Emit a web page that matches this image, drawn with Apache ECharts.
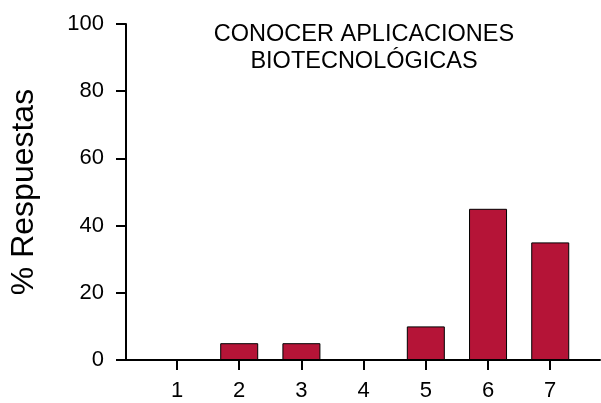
<!DOCTYPE html>
<html>
<head>
<meta charset="utf-8">
<script src="https://cdn.jsdelivr.net/npm/echarts@6/dist/echarts.min.js"></script>
<style>
  html, body { margin: 0; padding: 0; background: #fff; }
  #main { width: 601px; height: 403px; }
</style>
</head>
<body>
<div id="main"></div>
<script>
// datos
var categorias = [1, 2, 3, 4, 5, 6, 7];
var respuestas = [0, 5, 5, 0, 10, 45, 35];
var ticksY = [0, 20, 40, 60, 80, 100];
var titulo = "CONOCER APLICACIONES\nBIOTECNOLÓGICAS";

var chart = echarts.init(document.getElementById("main"));
var fuente = "Liberation Sans, Arial, sans-serif";

var option = {
  animation: false,
  title: {
    text: titulo,
    left: 359,
    top: 16,
    textAlign: "center",
    textStyle: {
      fontFamily: fuente,
      fontSize: 23.5,
      fontWeight: "normal",
      color: "#000",
      lineHeight: 27
    }
  },
  grid: { left: 126, right: 1, top: 24, bottom: 43, containLabel: false },
  xAxis: {
    type: "value",
    min: 0.18,
    max: 7.8,
    splitLine: { show: false },
    axisLine: { show: true, lineStyle: { color: "#000", width: 2 } },
    axisTick: { show: true, customValues: categorias, length: 10, lineStyle: { color: "#000", width: 2 } },
    axisLabel: {
      customValues: categorias,
      margin: 20,
      fontFamily: fuente,
      fontSize: 22,
      color: "#000"
    }
  },
  yAxis: {
    type: "value",
    min: ticksY[0],
    max: ticksY[ticksY.length - 1],
    interval: 20,
    name: "% Respuestas",
    nameLocation: "middle",
    nameGap: 86,
    nameTextStyle: { fontFamily: fuente, fontSize: 32, color: "#000" },
    splitLine: { show: false },
    axisLine: { show: true, lineStyle: { color: "#000", width: 2 } },
    axisTick: { show: true, length: 10, lineStyle: { color: "#000", width: 2 } },
    axisLabel: { margin: 22, fontFamily: fuente, fontSize: 22, color: "#000" }
  },
  series: [
    {
      type: "bar",
      barWidth: 38,
      data: categorias.map(function (c, i) { return [c, respuestas[i]]; }),
      itemStyle: { color: "#B51437", borderColor: "#000", borderWidth: 1 }
    }
  ]
};

chart.setOption(option);
</script>
</body>
</html>
